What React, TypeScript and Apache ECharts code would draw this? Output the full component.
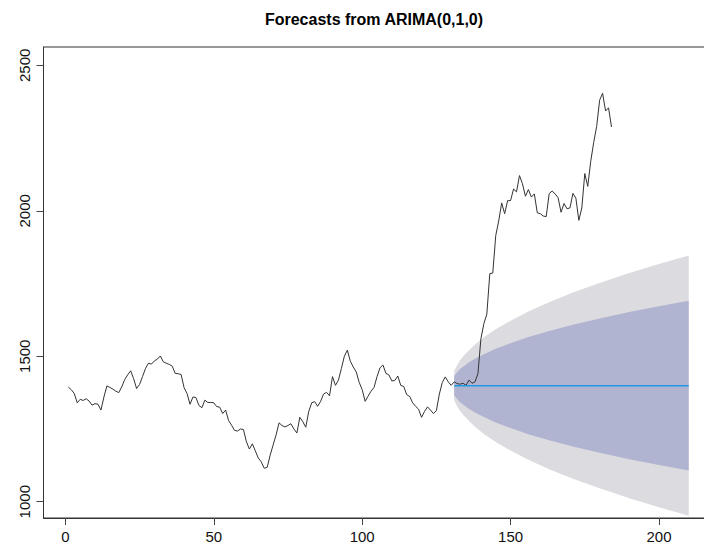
import React, { useEffect, useRef } from "react";
import * as echarts from "echarts";

// Observed series (t = 1..184)
const obsValues: number[] = [
  1394, 1385, 1372, 1340, 1352, 1348, 1354, 1346, 1332, 1337,
  1335, 1315, 1360, 1398, 1393, 1387, 1380, 1375, 1395, 1420,
  1436, 1450, 1423, 1389, 1403, 1430, 1458, 1476, 1473, 1484,
  1490, 1501, 1481, 1476, 1472, 1466, 1441, 1440, 1437, 1392,
  1372, 1335, 1360, 1358, 1331, 1323, 1349, 1341, 1341, 1340,
  1327, 1325, 1303, 1315, 1279, 1263, 1245, 1243, 1250, 1248,
  1206, 1181, 1199, 1175, 1150, 1137, 1115, 1118, 1160, 1195,
  1230, 1271, 1262, 1257, 1262, 1268, 1250, 1236, 1290, 1275,
  1256, 1310, 1340, 1344, 1328, 1345, 1370, 1376, 1364, 1430,
  1400, 1418, 1458, 1500, 1521, 1483, 1463, 1446, 1410, 1385,
  1345, 1363, 1380, 1393, 1430, 1460, 1470, 1441, 1436, 1415,
  1417, 1432, 1400, 1396, 1368, 1362, 1340, 1328, 1318, 1290,
  1310, 1326, 1315, 1303, 1313, 1370, 1410, 1429, 1412, 1400,
  1412, 1406, 1404, 1407, 1400, 1418, 1407, 1412, 1440, 1560,
  1612, 1645, 1784, 1786, 1915, 1965, 2027, 1990, 2035, 2035,
  2075, 2065, 2121, 2093, 2050, 2073, 2047, 2058, 1993, 1990,
  1982, 1980, 2059, 2068, 2058, 2045, 1995, 2025, 2007, 2010,
  2060, 2043, 1967, 2010, 2128, 2084, 2170, 2235, 2290, 2380,
  2404, 2343, 2354, 2288,
];
const obsStart = 1;

// Forecast horizon positions and interval bounds
const bandX: number[] = [131, 132, 133, 134, 136, 138, 141, 145, 150, 156, 163, 171, 180, 190, 200, 210];
const upper95: number[] = [1449, 1470, 1486, 1499, 1521, 1540, 1565, 1593, 1622, 1654, 1686, 1719, 1752, 1786, 1817, 1846];
const lower95: number[] = [1349, 1328, 1312, 1299, 1277, 1258, 1233, 1205, 1176, 1144, 1112, 1079, 1046, 1012, 981, 952];
const upper80: number[] = [1432, 1445, 1456, 1464, 1479, 1491, 1507, 1526, 1545, 1566, 1587, 1608, 1630, 1652, 1672, 1691];
const lower80: number[] = [1366, 1353, 1342, 1334, 1319, 1307, 1291, 1272, 1253, 1232, 1211, 1190, 1168, 1146, 1126, 1107];

// Point forecast
const fcX: number[] = [131, 210];
const fcY: number[] = [1399, 1399];

// Tick labels
const xTicks: number[] = [0, 50, 100, 150, 200];
const yTicks: number[] = [1000, 1500, 2000, 2500];

const titleText = "Forecasts from ARIMA(0,1,0)";
const FONT = "'Liberation Sans', Arial, Helvetica, sans-serif";

function bandSeries(upper: number[], lower: number[], color: string, z: number) {
  return {
    type: "custom",
    coordinateSystem: "cartesian2d",
    silent: true,
    z,
    data: [[bandX[0], upper[0]]],
    encode: { x: 0, y: 1 },
    renderItem: (_params: any, api: any) => {
      const pts: number[][] = [];
      for (let i = 0; i < bandX.length; i++) pts.push(api.coord([bandX[i], upper[i]]));
      for (let i = bandX.length - 1; i >= 0; i--) pts.push(api.coord([bandX[i], lower[i]]));
      return {
        type: "polygon",
        shape: { points: pts },
        style: { fill: color, stroke: null },
      };
    },
  };
}

export default function App() {
  const ref = useRef<HTMLDivElement>(null);
  useEffect(() => {
    if (!ref.current) return;
    const chart = echarts.init(ref.current, null, { renderer: "svg" });
    const obsData = obsValues.map((v, i) => [i + obsStart, v]);
    const fcData = fcX.map((x, i) => [x, fcY[i]]);
    const option: any = {
      animation: false,
      backgroundColor: "#ffffff",
      textStyle: { fontFamily: FONT },
      grid: {
        left: 43.5,
        top: 47,
        width: 670,
        height: 471,
        show: true,
        borderColor: "#333",
        borderWidth: 1,
        backgroundColor: "transparent",
        containLabel: false,
        outerBoundsMode: "none",
      },
      graphic: [
        {
          type: "text",
          x: 374,
          y: 19,
          style: {
            text: titleText,
            font: `bold 16px ${FONT}`,
            fill: "#000",
            textAlign: "center",
            textVerticalAlign: "middle",
          },
        },
      ],
      xAxis: {
        type: "value",
        min: -7.36,
        max: 218.36,
        axisLine: { show: true, onZero: false, lineStyle: { color: "#333", width: 1 } },
        splitLine: { show: false },
        axisTick: { show: true, length: 7, lineStyle: { color: "#444" }, customValues: xTicks },
        axisLabel: {
          customValues: xTicks,
          margin: 11,
          fontSize: 15,
          color: "#111",
          fontFamily: FONT,
          formatter: (v: number) => String(v),
        },
      },
      yAxis: {
        type: "value",
        min: 944,
        max: 2563,
        axisLine: { show: true, onZero: false, lineStyle: { color: "#333", width: 1 } },
        splitLine: { show: false },
        axisTick: { show: true, length: 7, lineStyle: { color: "#444" }, customValues: yTicks },
        axisLabel: {
          customValues: yTicks,
          rotate: 90,
          margin: 12,
          fontSize: 15,
          color: "#111",
          fontFamily: FONT,
          formatter: (v: number) => String(v),
        },
      },
      series: [
        bandSeries(upper95, lower95, "#DBDBE0", 1),
        bandSeries(upper80, lower80, "#B0B4D0", 2),
        {
          type: "line",
          data: obsData,
          showSymbol: false,
          symbol: "none",
          lineStyle: { color: "#333", width: 1 },
          z: 3,
        },
        {
          type: "line",
          data: fcData,
          showSymbol: false,
          symbol: "none",
          lineStyle: { color: "#2297E6", width: 1.5 },
          z: 4,
        },
      ],
    };
    chart.setOption(option);
    return () => chart.dispose();
  }, []);
  return (
    <div
      ref={ref}
      style={{ position: "fixed", left: 0, top: 0, width: 704, height: 550, overflow: "hidden", background: "#fff" }}
    />
  );
}
